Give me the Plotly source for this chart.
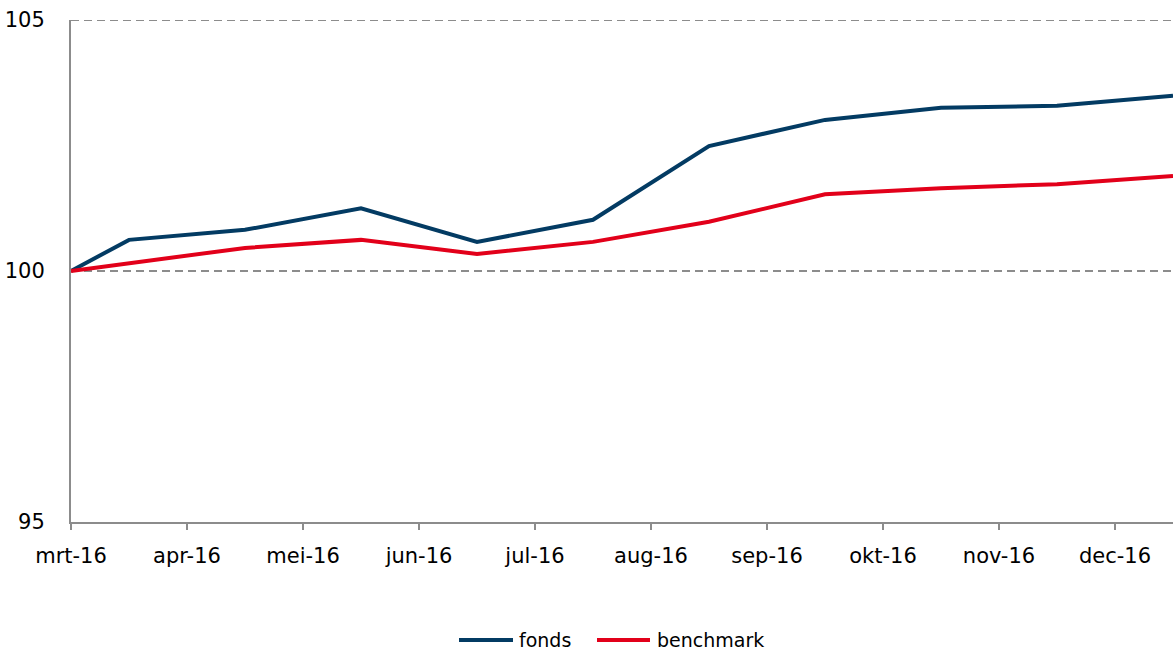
import plotly.graph_objects as go

# month positions (0 = start of mrt-16); observations at month midpoints
x_pos = [0, 0.5, 1.5, 2.5, 3.5, 4.5, 5.5, 6.5, 7.5, 8.5, 9.5]
fonds = [100.0, 100.62, 100.82, 101.25, 100.58, 101.02, 102.49, 103.01, 103.25, 103.29, 103.49]
benchmark = [100.0, 100.16, 100.46, 100.62, 100.34, 100.58, 100.98, 101.53, 101.65, 101.73, 101.89]
series_names = ["fonds", "benchmark"]
series_colors = ["#033B63", "#E2001A"]
tick_labels = ["mrt-16", "apr-16", "mei-16", "jun-16", "jul-16", "aug-16",
               "sep-16", "okt-16", "nov-16", "dec-16"]
tick_vals = list(range(len(tick_labels)))
y_ticks = [95, 100, 105]

grid_color = "#8c8c8c"
grid_dash = "8px,5px"
font_family = "DejaVu Sans, Verdana, sans-serif"

fig = go.Figure()
for name, vals, col in zip(series_names, [fonds, benchmark], series_colors):
    fig.add_trace(go.Scatter(x=x_pos, y=vals, mode="lines", name=name,
                             line=dict(color=col, width=4), showlegend=False))

# top gridline (plotly hides the gridline that sits on the range edge)
fig.add_shape(type="line", xref="paper", x0=0, x1=1, yref="y", y0=y_ticks[-1], y1=y_ticks[-1],
              line=dict(color=grid_color, width=2, dash=grid_dash), layer="below")

# custom legend (long line samples like the original)
plot_l, plot_w, plot_b, plot_h = 71, 1102, 522, 502
def px_x(p):
    return (p - plot_l) / plot_w
leg_y = (plot_b - 640) / plot_h
legend_items = [(459, 513, 517), (597, 650, 655)]
for (x0, x1, xt), name, col in zip(legend_items, series_names, series_colors):
    fig.add_shape(type="line", xref="paper", yref="paper", x0=px_x(x0), x1=px_x(x1),
                  y0=leg_y, y1=leg_y, line=dict(color=col, width=4))
    fig.add_annotation(xref="paper", yref="paper", x=px_x(xt), y=leg_y, text=name,
                       showarrow=False, xanchor="left", yanchor="middle",
                       font=dict(size=19, family=font_family, color="#000000"))

fig.update_layout(
    width=1173, height=658,
    margin=dict(l=71, r=0, t=20, b=136),
    plot_bgcolor="white", paper_bgcolor="white",
    font=dict(family=font_family, size=21, color="#000000"),
    showlegend=False,
    xaxis=dict(range=[0, 9.5], tickvals=tick_vals, ticktext=tick_labels,
               showgrid=False, zeroline=False, showline=True, linecolor=grid_color,
               linewidth=2, ticks="outside", ticklen=6, tickcolor=grid_color,
               tickwidth=2, ticklabelstandoff=8),
    yaxis=dict(range=[y_ticks[0], y_ticks[-1]], tickvals=y_ticks, showgrid=True,
               gridcolor=grid_color, gridwidth=2, griddash=grid_dash,
               zeroline=False, showline=True, linecolor=grid_color, linewidth=2,
               ticks="", ticklabelstandoff=20),
)

fig.write_html("out.html", config={"displayModeBar": False},
               post_script="document.body.style.margin='0';document.body.style.overflow='hidden';")
